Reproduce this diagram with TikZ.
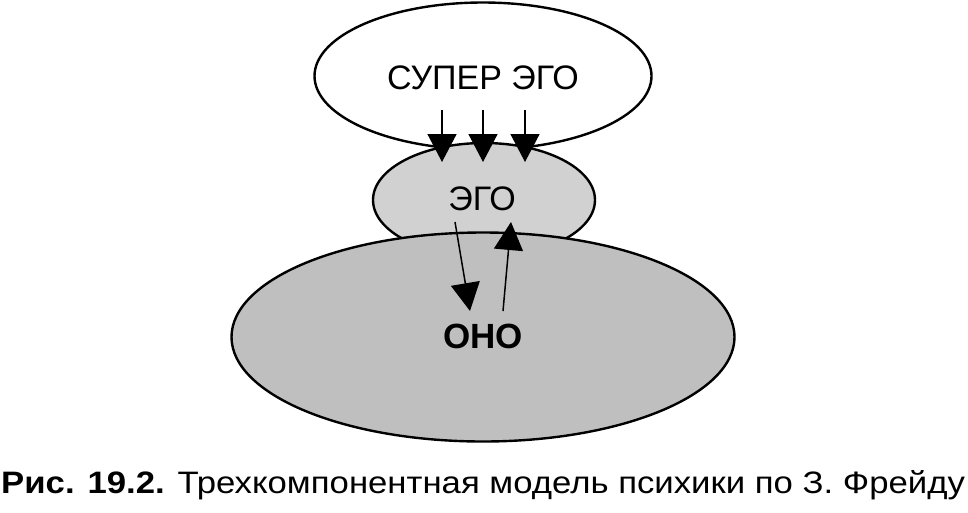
\documentclass[tikz,border=0pt]{standalone}
\usepackage{fontspec}
\setmainfont{Liberation Sans}
\usetikzlibrary{shapes.geometric,arrows.meta,positioning}

\definecolor{egogray}{gray}{0.82}
\definecolor{idgray}{gray}{0.75}

\begin{document}
\begin{tikzpicture}[x=1pt,y=-1pt,
    part/.style={ellipse,draw=black,line width=2.4pt,inner sep=0pt},
    push/.style={line width=1.5pt,-{Triangle[length=28pt,width=29pt]}},
    tag/.style={anchor=base,font=\fontsize{34}{34}\selectfont}]
            \useasboundingbox[fill=white] (0,0) rectangle (968,512);

            % the three parts
            \node[part,fill=white,minimum width=337pt,minimum height=147pt] (superego) at (483,76) {};
            \node[part,fill=egogray,minimum width=222pt,minimum height=114pt] (ego) at (484,200) {};

            % super ego presses on ego
            \foreach \i/\xa in {1/442,2/483,3/525} {
                \coordinate (s\i) at (\xa,110);
                \coordinate (e\i) at (\xa,162);
                \draw[push] (s\i) -- (e\i);
            }

            \node[part,fill=idgray,minimum width=503pt,minimum height=209pt] (id) at (483,337) {};

            % ego and id
            \coordinate (down1) at (455,222);
            \coordinate (down2) at (470,311);
            \coordinate (up1) at (503,311);
            \coordinate (up2) at (511,222);
            \draw[push] (down1) -- (down2);
            \draw[push] (up1) -- (up2);

            \node[tag] (superegotext) at (483,89) {СУПЕР ЭГО};
            \node[tag] (egotext) at (482,210) {ЭГО};
            \node[tag,font=\fontsize{35}{35}\selectfont\bfseries] (idtext) at (483,348) {ОНО};

            \node[anchor=base west,inner sep=0pt,xscale=1.12,font=\fontsize{31}{31}\selectfont] (caption) at (1,493)
                {\textbf{Рис. 19.2.} Трехкомпонентная модель психики по З. Фрейду};
        \end{tikzpicture}
\end{document}
